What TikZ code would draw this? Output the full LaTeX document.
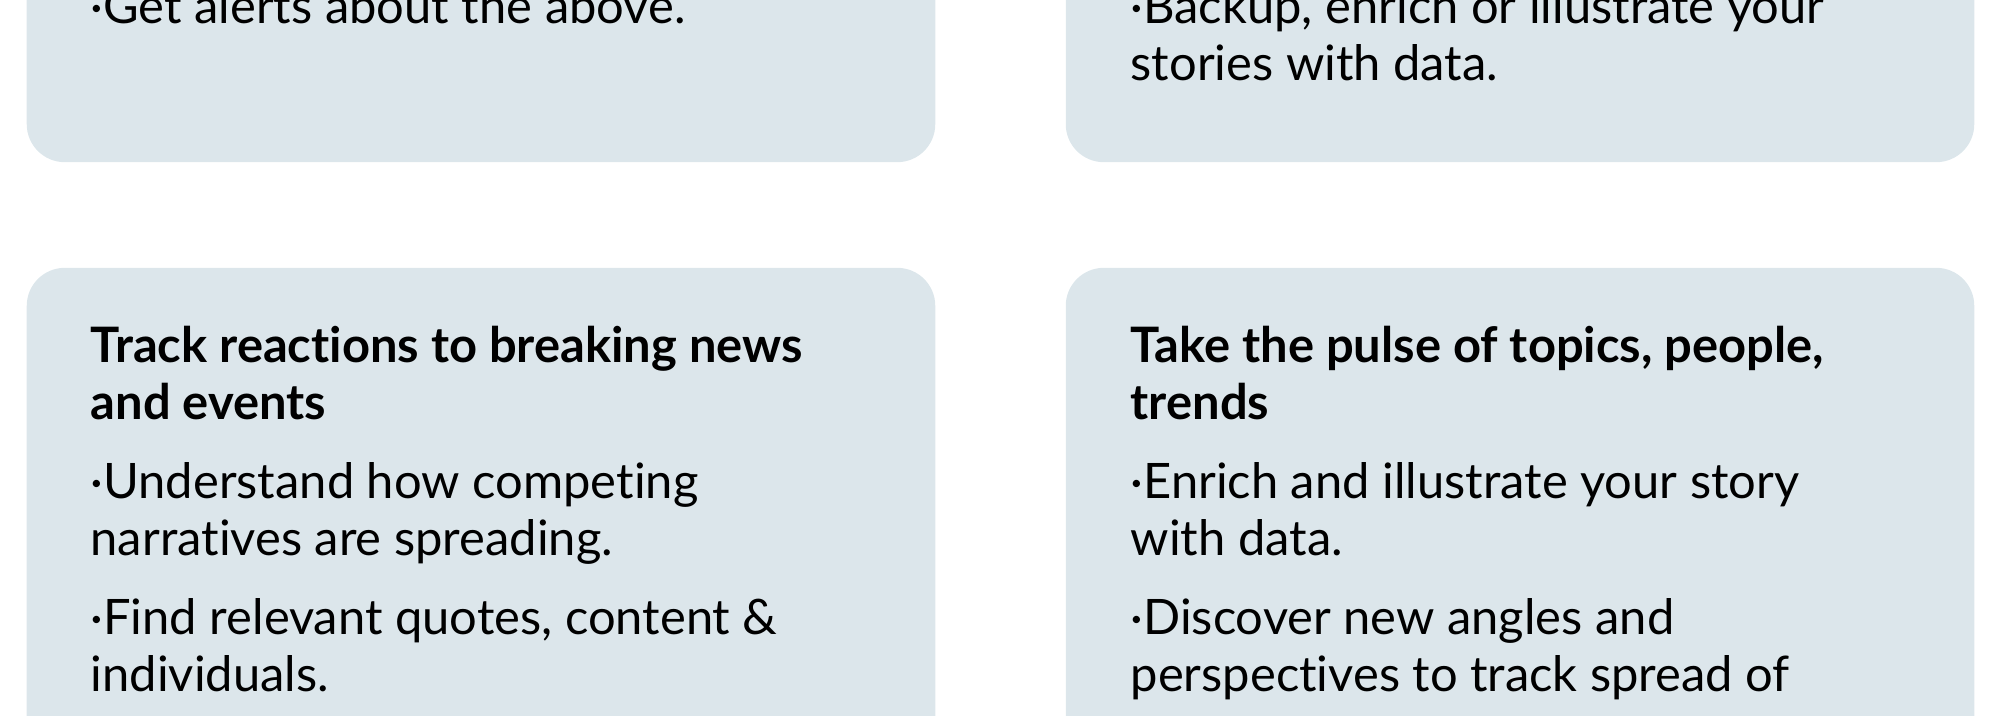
\documentclass[tikz,border=0pt]{standalone}
\usepackage{fontspec}
\setmainfont{Lato}[Ligatures={NoCommon}]
\usetikzlibrary{positioning}
\definecolor{cardblue}{HTML}{DCE6EB}

\begin{document}
\begin{tikzpicture}[x=0.01cm,y=-0.01cm]
                \tikzstyle{every node}+=[inner sep=0pt]
                \tikzstyle{card}=[fill=cardblue, rounded corners=0.38cm, minimum width=9.08cm, minimum height=6cm]
                \tikzstyle{txt}=[anchor=base west, align=left, font=\fontsize{13.9pt}{16.1pt}\selectfont]
                \tikzstyle{head}=[txt, font=\fontsize{13.9pt}{16.1pt}\selectfont\bfseries]
                \useasboundingbox (0,0) rectangle (2000,715);
                \clip (0,0) rectangle (2000,715);
                % cards
                \node [card] (alerts) at (481,-138) {};
                \node [card] (backup) at (1520,-138) {};
                \node [card] (track) at (481,568) {};
                \node [card] (pulse) at (1520,568) {};
                % top row, last lines only (base = last line)
                \node [txt] (alertsB) at (90,24) {·Get alerts about the above.};
                \node [txt] (backupB) at (1130,80) {·Backup, enrich or illustrate your\\stories with data.};
                % bottom left
                \node [head] (trackH) at (90,419) {Track reactions to breaking news\\and events};
                \node [txt] (trackA) at (90,555) {·Understand how competing\\narratives are spreading.};
                \node [txt] (trackB) at (90,691) {·Find relevant quotes, content \&\\individuals.};
                % bottom right
                \node [head] (pulseH) at (1130,419) {Take the pulse of topics, people,\\trends};
                \node [txt] (pulseA) at (1130,555) {·Enrich and illustrate your story\\with data.};
                \node [txt] (pulseB) at (1130,691) {·Discover new angles and\\perspectives to track spread of};
\end{tikzpicture}
\end{document}
